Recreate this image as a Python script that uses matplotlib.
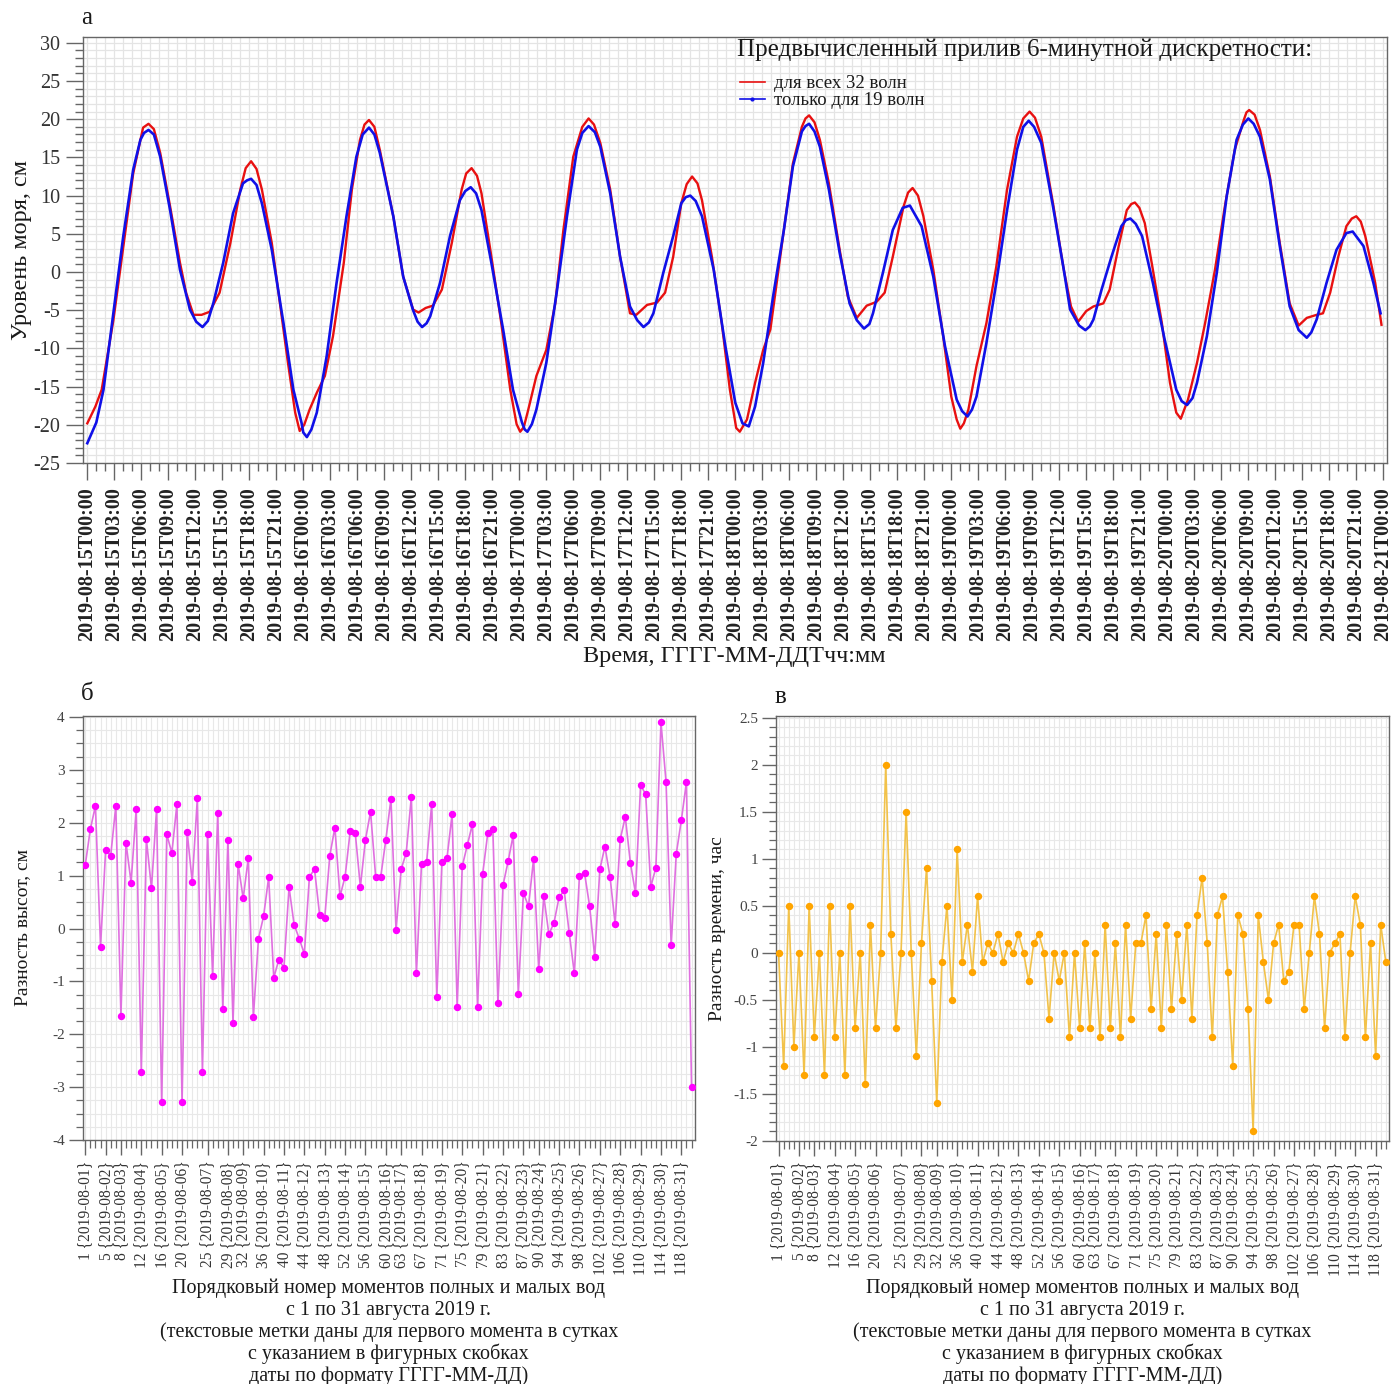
import matplotlib
matplotlib.use("Agg")
import matplotlib.pyplot as plt
from matplotlib.ticker import MultipleLocator
from matplotlib.lines import Line2D
import datetime as dt

plt.rcParams['font.family'] = ['Liberation Serif', 'DejaVu Serif']
plt.rcParams['axes.unicode_minus'] = False

# ---------------- data: panel a (hours from 2019-08-15T00:00, sea level, cm)
red_h = [0, 0.9, 1.6, 2.9, 4.0, 5.1, 5.9, 6.8, 8.1, 9.2, 10.3, 11.0, 11.8, 12.7, 13.6, 14.7,
         15.9, 17.0, 18.2, 19.4, 20.5, 21.4, 22.3, 23.1, 23.6, 24.7, 25.5, 26.4, 27.3, 28.5,
         29.4, 30.3, 31.3, 32.5, 34.0, 35.1, 36.2, 36.8, 37.6, 38.4, 39.4, 40.5, 41.6, 42.7,
         43.8, 44.9, 46.0, 47.0, 47.7, 48.1, 49.0, 49.9, 51.0, 52.0, 52.9, 54.0, 55.0, 55.7,
         57.0, 58.1, 59.2, 60.3, 61.0, 62.2, 63.3, 64.2, 65.1, 66.0, 67.2, 68.3, 69.4, 70.5,
         71.4, 72.1, 72.5, 73.3, 74.2, 75.1, 75.9, 76.6, 77.5, 78.4, 79.4, 80.2, 81.4, 82.4,
         83.6, 84.5, 85.5, 86.6, 87.7, 88.6, 89.5, 90.7, 91.7, 92.9, 94.0, 95.1, 96.0, 96.6,
         97.0, 97.9, 98.8, 99.9, 101.0, 102.2, 103.3, 104.7, 106.0, 107.3, 108.5, 109.3, 110.1,
         111.0, 111.8, 112.9, 113.6, 114.6, 115.5, 116.4, 117.5, 118.4, 119.4, 120.3, 121.0,
         121.5, 122.3, 123.3, 124.2, 125.3, 126.4, 127.5, 128.5, 129.1, 130.3, 131.4, 132.5,
         133.6, 134.6, 135.5, 136.6, 137.3, 138.1, 139.0, 139.9, 141.0, 142.0, 143.1, 143.8]
red_v = [-19.8, -17.6, -15.4, -6.3, 3.3, 12.9, 17.3, 19.4, 15.6, 8.6, 1.2, -2.8, -5.6, -5.6, -5.2, -2.7,
         3.8, 10.8, 14.5, 10.8, 3.8, -4.1, -11.9, -18.4, -20.8, -18.0, -15.8, -13.6, -8.4, 1.2,
         10.8, 17.3, 19.9, 16.0, 7.3, -0.6, -4.9, -5.3, -4.7, -4.4, -2.3, 3.8, 10.8, 13.6,
         10.3, 2.0, -6.7, -15.4, -19.9, -20.9, -18.0, -13.6, -10.2, -4.1, 5.5, 15.1, 19.0, 20.1,
         16.9, 10.8, 2.0, -5.4, -5.6, -4.3, -4.0, -2.7, 2.0, 9.0, 12.5, 9.4, 2.0, -6.7,
         -15.4, -20.4, -20.9, -19.3, -14.5, -10.2, -7.5, -1.4, 6.4, 14.2, 19.0, 20.5, 17.3, 11.6,
         2.9, -3.2, -6.0, -4.4, -3.9, -2.7, 2.0, 8.6, 11.0, 7.3, 0.3, -8.4, -16.3, -19.3,
         -20.5, -18.0, -12.3, -6.7, 0.7, 10.8, 17.7, 21.0, 17.7, 9.0, 0.3, -4.5, -6.5,
         -5.1, -4.5, -4.1, -2.3, 3.4, 8.1, 9.1, 6.4, 0.3, -6.7, -14.5, -18.4,
         -19.2, -16.7, -11.9, -6.7, 0.3, 8.6, 16.0, 19.9, 21.2, 18.6, 12.5, 3.8,
         -4.1, -7.0, -6.0, -5.6, -5.4, -2.7, 2.0, 6.0, 7.3, 4.7, -1.4, -6.9]
# extra readings taken around the rounded crests/troughs (red)
red_h_extra = [6.2, 7.4, 17.6, 18.8, 24.1, 30.8, 31.9, 42.1, 43.3, 48.5, 56.3, 66.6, 67.8,
               79.8, 80.8, 91.2, 92.3, 97.4, 104.0, 105.3, 116.0, 116.9, 128.8, 129.7,
               140.5, 141.5]
red_v_extra = [18.9, 18.7, 13.6, 13.5, -20.0, 19.3, 19.0, 12.9, 12.6, -20.3, 19.3, 11.5, 11.6,
               20.1, 19.6, 10.4, 10.0, -19.8, 20.1, 20.2, 8.9, 8.4, 20.9, 20.6,
               7.0, 6.6]

blue_h = [0, 1.0, 1.8, 2.9, 4.0, 5.1, 5.9, 6.8, 8.1, 9.2, 10.3, 11.4, 12.8, 14.0, 15.1, 16.2,
          17.3, 18.2, 19.4, 20.5, 21.8, 22.9, 23.8, 24.4, 25.5, 26.6, 27.7, 28.8, 29.9, 31.3,
          32.5, 34.0, 35.1, 36.2, 37.2, 38.1, 39.2, 40.3, 41.4, 42.6, 43.8, 44.9, 46.2, 47.3,
          48.3, 48.9, 49.9, 51.0, 52.2, 53.3, 54.4, 55.7, 57.0, 58.1, 59.2, 60.3, 61.8, 62.9,
          64.0, 65.1, 66.0, 67.0, 68.3, 69.6, 70.9, 72.0, 72.8, 73.5, 74.2, 75.1, 76.2, 77.4,
          78.4, 79.4, 80.2, 81.4, 82.4, 83.6, 84.7, 86.3, 87.3, 88.4, 89.5, 90.6, 91.4, 92.7,
          94.0, 95.3, 96.6, 97.8, 98.8, 99.9, 101.0, 102.2, 103.3, 104.6, 106.0, 107.3, 108.5,
          109.2, 110.9, 111.8, 112.7, 113.8, 114.9, 115.9, 117.2, 118.4, 119.7, 121.0, 122.2,
          123.3, 124.4, 125.5, 126.6, 127.7, 129.0, 130.3, 131.4, 132.5, 133.6, 135.5, 136.6,
          137.7, 138.8, 139.9, 140.6, 141.8, 142.9, 143.7]
blue_v = [-22.4, -19.7, -15.4, -5.4, 4.7, 13.4, 17.3, 18.6, 15.1, 8.1, 0.3, -4.9, -7.2, -4.1, 1.2, 7.7,
          11.6, 12.2, 9.0, 2.9, -6.7, -15.4, -19.7, -21.6, -18.4, -11.0, -1.4, 7.3, 15.1, 18.9,
          15.6, 7.3, -0.6, -5.0, -7.2, -5.8, -1.4, 4.7, 9.4, 11.1, 8.1, 1.2, -7.5, -15.4,
          -19.7, -20.9, -18.0, -11.9, -2.3, 7.3, 16.0, 19.1, 16.4, 10.3, 2.0, -4.5, -7.2, -5.4,
          -0.1, 4.7, 9.0, 10.0, 7.3, 0.3, -9.7, -17.1, -19.8, -20.2, -17.6, -11.9, -3.2, 5.5,
          13.8, 18.4, 19.4, 16.4, 10.8, 2.5, -4.1, -7.4, -5.4, -0.1, 5.5, 8.4, 8.7, 6.0,
          -0.6, -9.7, -16.7, -18.9, -16.3, -9.3, -1.4, 8.1, 16.0, 19.8, 16.9, 8.6, 0.3,
          -4.9, -7.6, -6.2, -2.3, 2.0, 6.0, 7.0, 4.7, -1.4, -8.8, -15.4, -17.4,
          -14.5, -8.4, -0.1, 9.9, 17.3, 20.1, 17.7, 12.1, 3.4, -4.5, -8.6, -6.2,
          -1.4, 2.9, 5.1, 5.3, 3.4, -1.4, -5.4]
# extra readings taken around the rounded crests/troughs (blue)
blue_h_extra = [6.3, 7.4, 12.1, 13.4, 17.75, 18.8, 24.0, 24.9, 30.6, 31.9, 36.7, 37.7, 42.0,
                43.2, 48.6, 49.4, 55.0, 56.4, 61.1, 62.4, 66.5, 67.6, 79.8, 80.8, 85.5, 86.9,
                97.2, 98.3, 104.0, 105.2, 110.2, 111.4, 115.4, 116.5, 121.6, 122.8, 128.4,
                129.6, 134.6, 136.0]
blue_v_extra = [18.2, 18.0, -6.5, -6.4, 12.0, 11.4, -21.0, -20.6, 18.0, 18.0, -6.5, -6.7, 10.6,
                10.3, -20.6, -19.9, 18.2, 18.3, -6.3, -6.6, 9.8, 9.3, 19.1, 18.4, -6.3, -6.8,
                -18.2, -18.0, 19.0, 19.0, -7.0, -7.1, 6.8, 6.3, -16.9, -16.5, 19.3,
                19.4, -7.6, -7.9]

# ---------------- data: panels б and в (120 high/low water moments, Aug 2019)
dh = [1.20, 1.88, 2.32, -0.34, 1.48, 1.38, 2.32, -1.65, 1.62, 0.87,
      2.26, -2.71, 1.69, 0.76, 2.26, -3.29, 1.78, 1.43, 2.36, -3.29,
      1.83, 0.88, 2.46, -2.71, 1.78, -0.90, 2.18, -1.53, 1.68, -1.78,
      1.22, 0.57, 1.33, -1.67, -0.19, 0.23, 0.97, -0.93, -0.59, -0.74,
      0.78, 0.07, -0.19, -0.48, 0.98, 1.12, 0.26, 0.19, 1.38, 1.91,
      0.61, 0.98, 1.84, 1.80, 0.79, 1.68, 2.21, 0.98, 0.98, 1.68,
      2.45, -0.03, 1.12, 1.43, 2.49, -0.85, 1.22, 1.25, 2.36, -1.30,
      1.25, 1.33, 2.16, -1.48, 1.18, 1.58, 1.98, -1.48, 1.03, 1.80,
      1.88, -1.41, 0.82, 1.27, 1.77, -1.23, 0.67, 0.42, 1.32, -0.77,
      0.61, -0.11, 0.11, 0.59, 0.72, -0.09, -0.85, 1.00, 1.05, 0.42,
      -0.54, 1.12, 1.55, 0.98, 0.09, 1.69, 2.11, 1.24, 0.67, 2.71,
      2.54, 0.79, 1.15, 3.90, 2.77, -0.32, 1.41, 2.05, 2.77, -2.99]

dtime = [0, -1.2, 0.5, -1.0, 0, -1.3, 0.5, -0.9, 0, -1.3,
         0.5, -0.9, 0, -1.3, 0.5, -0.8, 0, -1.4, 0.3, -0.8,
         0, 2.0, 0.2, -0.8, 0, 1.5, 0, -1.1, 0.1, 0.9,
         -0.3, -1.6, -0.1, 0.5, -0.5, 1.1, -0.1, 0.3, -0.2, 0.6,
         -0.1, 0.1, 0, 0.2, -0.1, 0.1, 0, 0.2, 0, -0.3,
         0.1, 0.2, 0, -0.7, 0, -0.3, 0, -0.9, 0, -0.8,
         0.1, -0.8, 0, -0.9, 0.3, -0.8, 0.1, -0.9, 0.3, -0.7,
         0.1, 0.1, 0.4, -0.6, 0.2, -0.8, 0.3, -0.6, 0.2, -0.5,
         0.3, -0.7, 0.4, 0.8, 0.1, -0.9, 0.4, 0.6, -0.2, -1.2,
         0.4, 0.2, -0.6, -1.9, 0.4, -0.1, -0.5, 0.1, 0.3, -0.3,
         -0.2, 0.3, 0.3, -0.6, 0, 0.6, 0.2, -0.8, 0, 0.1,
         0.2, -0.9, 0, 0.6, 0.3, -0.9, 0.1, -1.1, 0.3, -0.1]

idx = list(range(1, len(dh) + 1))
label_idx = [1, 5, 8, 12, 16, 20, 25, 29, 32, 36, 40, 44, 48, 52, 56, 60, 63, 67, 71, 75,
             79, 83, 87, 90, 94, 98, 102, 106, 110, 114, 118]
label_days = list(range(1, 32))
xlabel_bottom = ("Порядковый номер моментов полных и малых вод\n"
                 "с 1 по 31 августа 2019 г.\n"
                 "(текстовые метки даны для первого момента в сутках\n"
                 "с указанием в фигурных скобках\n"
                 "даты по формату ГГГГ-ММ-ДД)")

# merge readings in time order
red = sorted(zip(red_h + red_h_extra, red_v + red_v_extra))
blue = sorted(zip(blue_h + blue_h_extra, blue_v + blue_v_extra))

# ---------------- layout
W, H = 1394, 1384
fig = plt.figure(figsize=(W / 100, H / 100), dpi=100)


def rect(l, t, r, b):
    return [l / W, 1 - b / H, (r - l) / W, (b - t) / H]


ax1 = fig.add_axes(rect(82.7, 37.3, 1386.7, 463.3))
ax2 = fig.add_axes(rect(82.7, 716, 695, 1140))
ax3 = fig.add_axes(rect(776, 716, 1389.3, 1140.7))

GRID = '#e4e4e4'
SPINE = '#666666'
TXT = '#1a1a1a'
TICKTXT = '#333333'

for ax in (ax1, ax2, ax3):
    for s in ax.spines.values():
        s.set_color(SPINE)
        s.set_linewidth(1.0)
    ax.set_axisbelow(True)

# ---- panel a
ax1.plot([p[0] for p in red], [p[1] for p in red], color='#e81010', lw=1.7, zorder=3,
         solid_joinstyle='round')
ax1.plot([p[0] for p in blue], [p[1] for p in blue], color='#1010e8', lw=1.9, zorder=4,
         solid_joinstyle='round')
ax1.set_xlim(-0.51, 144.38)
ax1.set_ylim(-25.03, 30.72)
ax1.xaxis.set_minor_locator(MultipleLocator(1))
ax1.yaxis.set_major_locator(MultipleLocator(5))
ax1.yaxis.set_minor_locator(MultipleLocator(1))
t0 = dt.datetime(2019, 8, 15)
xt = list(range(0, 145, 3))
ax1.set_xticks(xt)
ax1.set_xticklabels([(t0 + dt.timedelta(hours=h)).strftime('%Y-%m-%dT%H:%M') for h in xt],
                    rotation=90, fontsize=14.5, fontweight='bold', color='#222222')
ax1.tick_params(axis='x', which='major', length=12, width=1, color=SPINE, pad=5)
ax1.tick_params(axis='x', which='minor', length=6, width=1, color=SPINE)
ax1.tick_params(axis='y', which='major', length=12, width=1, color=SPINE, pad=4,
                labelsize=14.5, labelcolor=TICKTXT)
ax1.tick_params(axis='y', which='minor', length=6, width=1, color=SPINE)
ax1.grid(which='both', color=GRID, lw=0.9)
ax1.set_ylabel('Уровень моря, см', fontsize=17.5, color=TXT)
ax1.yaxis.set_label_coords((32 - 82.7) / (1386.7 - 82.7), 0.5)
ax1.set_xlabel('Время, ГГГГ-ММ-ДДТчч:мм', fontsize=17.5, color=TXT, labelpad=4)

fig.text(737 / W, 1 - 50 / H, 'Предвычисленный прилив 6-минутной дискретности:',
         fontsize=18, color=TXT, ha='left', va='center')
handles = [Line2D([], [], color='#e81010', lw=1.2),
           Line2D([], [], color='#1010e8', lw=1.2, marker='.', markersize=4)]
leg = ax1.legend(handles, ['для всех 32 волн', 'только для 19 волн'],
                 fontsize=13.5, frameon=False,
                 loc='upper left', bbox_to_anchor=(727 / W, 1 - 62 / H),
                 bbox_transform=fig.transFigure,
                 handlelength=1.3, handletextpad=0.5, labelspacing=0.0, borderpad=0.2)
for t in leg.get_texts():
    t.set_color(TXT)

fig.text(81 / W, 1 - 18 / H, 'а', fontsize=18, color=TXT, va='center', ha='left')


# ---- panels б, в
def bottom_panel(ax, y, mcolor, lcolor, ylim, ymaj, ymin, ylabel, ylab_x):
    ax.plot(idx, y, color=lcolor, lw=1.2, zorder=3)
    ax.plot(idx, y, ls='none', marker='o', markersize=4.3, color=mcolor, zorder=4)
    ax.set_xlim(0.5, 120.68)
    ax.set_ylim(*ylim)
    ax.set_xticks(label_idx)
    ax.set_xticklabels([f'{i} {{2019-08-{d:02d}}}' for i, d in zip(label_idx, label_days)],
                       rotation=90, fontsize=11.2, color=TICKTXT)
    ax.xaxis.set_minor_locator(MultipleLocator(1))
    ax.yaxis.set_major_locator(MultipleLocator(ymaj))
    ax.yaxis.set_minor_locator(MultipleLocator(ymin))
    ax.tick_params(axis='x', which='major', length=11, width=1, color=SPINE, pad=4)
    ax.tick_params(axis='x', which='minor', length=6, width=0.9, color=SPINE)
    ax.tick_params(axis='y', which='major', length=10, width=1, color=SPINE, pad=3,
                   labelsize=11, labelcolor='#444444')
    ax.tick_params(axis='y', which='minor', length=5, width=0.9, color=SPINE)
    ax.grid(which='both', color='#e8e8e8', lw=0.8)
    ax.set_ylabel(ylabel, fontsize=14, color=TXT)
    bb = ax.get_position()
    ax.yaxis.set_label_coords((ylab_x / W - bb.x0) / bb.width, 0.5)
    cx = bb.x0 + bb.width / 2
    fig.text(cx, 1 - 1279 / H, xlabel_bottom, fontsize=14.5, color=TXT, linespacing=1.15,
             ha='center', va='top', multialignment='center')


bottom_panel(ax2, dh, '#ff00ff', '#e070e0', (-4.0, 4.02), 1, 0.25, 'Разность высот, см', 31)
bottom_panel(ax3, dtime, '#ffa500', '#f2c24a', (-2.0, 2.52), 0.5, 0.1,
             'Разность времени, час', 726)
ax3.set_yticks([-2, -1.5, -1, -0.5, 0, 0.5, 1, 1.5, 2, 2.5])
ax3.set_yticklabels(['-2', '-1.5', '-1', '-0.5', '0', '0.5', '1', '1.5', '2', '2.5'])

fig.text(81 / W, 1 - 694 / H, 'б', fontsize=18, color=TXT, va='center', ha='left')
fig.text(775 / W, 1 - 697 / H, 'в', fontsize=18, color=TXT, va='center', ha='left')

fig.savefig('out.png', dpi=100)
